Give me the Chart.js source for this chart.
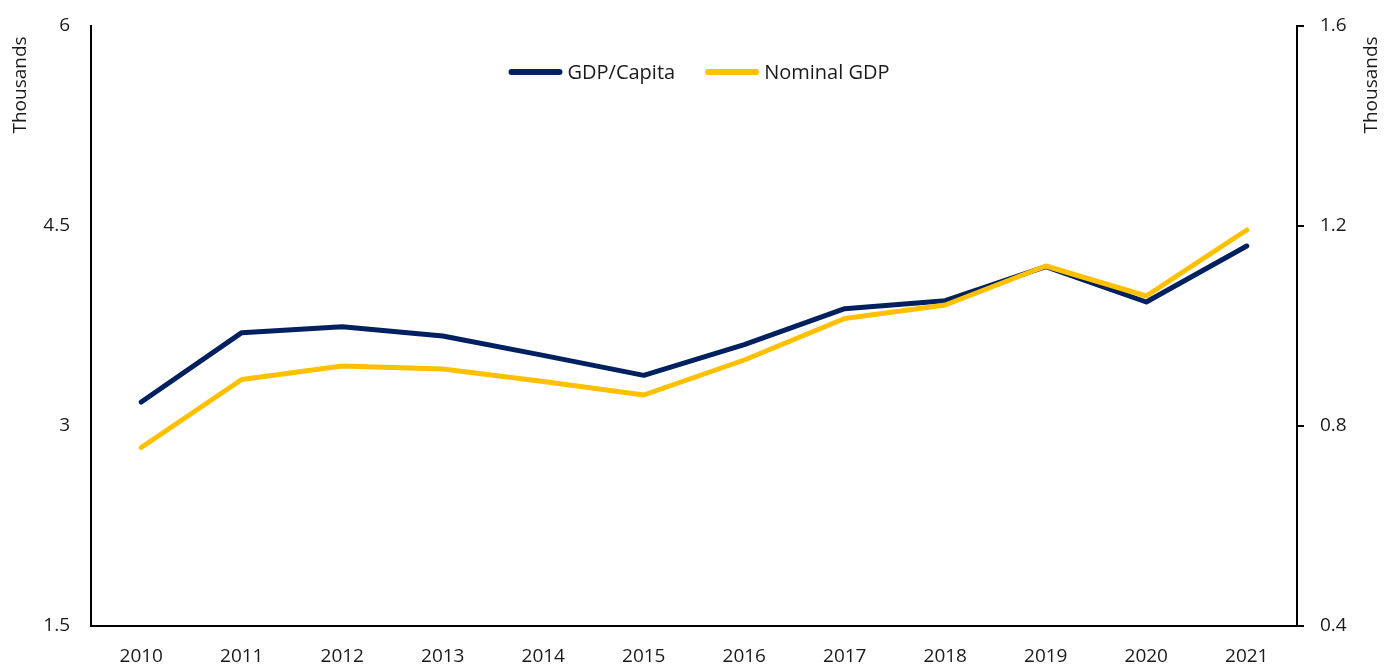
<!DOCTYPE html>
<html>
<head>
<meta charset="utf-8">
<title>GDP/Capita and Nominal GDP</title>
<script src="https://cdn.jsdelivr.net/npm/chart.js@4.4.0/dist/chart.umd.min.js"></script>
<style>
    html, body { margin: 0; padding: 0; background: #fff; }
    canvas { display: block; }
</style>
</head>
<body>
<canvas id="gdp-line" width="1394" height="666"></canvas>
<script>
var years = ["2010", "2011", "2012", "2013", "2014", "2015", "2016", "2017", "2018", "2019", "2020", "2021"];
// left axis, thousands
var gdpPerCapita = [3.18, 3.70, 3.745, 3.675, 3.53, 3.38, 3.61, 3.88, 3.94, 4.195, 3.93, 4.35];
// right axis, thousands
var nominalGdp = [0.757, 0.893, 0.92, 0.914, 0.889, 0.862, 0.932, 1.015, 1.042, 1.12, 1.06, 1.192];
var leftTicks = [1.5, 3, 4.5, 6];
var rightTicks = [0.4, 0.8, 1.2, 1.6];
var axisTitle = "Thousands";

var FONT = "'Open Sans', 'Noto Sans', sans-serif";
var TEXT = "#1a1a1a";
var NAVY = "#002060";
var GOLD = "#FFC000";

function fixedTicks(values) {
    return function(axis) {
        axis.ticks = values.map(function(v) { return {value: v}; });
    };
}

// fixed axis width, and no extra room reserved for the end labels
function fixedWidth(w) {
    return function(scale) {
        scale.width = w;
        scale.paddingTop = 0;
        scale.paddingBottom = 0;
    };
}

function rotatedText(ctx, text, x, y) {
    ctx.save();
    ctx.translate(x, y);
    ctx.rotate(-Math.PI / 2);
    ctx.textAlign = "center";
    ctx.textBaseline = "middle";
    ctx.fillText(text, 0, 0);
    ctx.restore();
}

// axis titles (both read bottom-to-top) and the in-plot legend
var extras = {
    id: "extras",
    afterDraw: function(chart) {
        var ctx = chart.ctx;
        var area = chart.chartArea;
        ctx.save();
        ctx.fillStyle = TEXT;

        ctx.font = "19px " + FONT;
        rotatedText(ctx, axisTitle, 21, 85);
        rotatedText(ctx, axisTitle, 1372, 85);

        ctx.font = "20px " + FONT;
        var lineLen = 54, gap = 5, itemGap = 30;
        var items = chart.data.datasets.map(function(ds) {
            return {label: ds.label, color: ds.borderColor, w: ctx.measureText(ds.label).width};
        });
        var total = 0;
        items.forEach(function(it, i) {
            total += lineLen + gap + it.w + (i > 0 ? itemGap : 0);
        });
        var x = (area.left + area.right) / 2 - total / 2 + 5;
        var y = 72;
        ctx.textBaseline = "middle";
        ctx.textAlign = "left";
        ctx.lineCap = "round";
        ctx.lineWidth = 6;
        items.forEach(function(it) {
            ctx.strokeStyle = it.color;
            ctx.beginPath();
            ctx.moveTo(x + 3, y);
            ctx.lineTo(x + lineLen - 3, y);
            ctx.stroke();
            x += lineLen + gap;
            ctx.fillText(it.label, x, y + 1);
            x += it.w + itemGap;
        });
        ctx.restore();
    }
};

new Chart(document.getElementById("gdp-line"), {
    type: "line",
    data: {
        labels: years,
        datasets: [
            {
                label: "GDP/Capita",
                data: gdpPerCapita,
                yAxisID: "yLeft",
                borderColor: NAVY,
                order: 1
            },
            {
                label: "Nominal GDP",
                data: nominalGdp,
                yAxisID: "yRight",
                borderColor: GOLD,
                order: 0
            }
        ]
    },
    options: {
        responsive: false,
        animation: false,
        devicePixelRatio: 1,
        layout: {autoPadding: false, padding: {top: 26, left: 0, right: 0, bottom: 0}},
        elements: {
            line: {borderWidth: 5, tension: 0, borderCapStyle: "round", borderJoinStyle: "round", fill: false},
            point: {radius: 0, hoverRadius: 0}
        },
        plugins: {
            legend: {display: false},
            tooltip: {enabled: false}
        },
        scales: {
            x: {
                offset: true,
                grid: {display: false, drawTicks: false},
                border: {display: true, color: "#000", width: 2},
                ticks: {color: TEXT, font: {family: FONT, size: 19}, padding: 19, maxRotation: 0},
                afterFit: function(scale) { scale.height = 40; }
            },
            yLeft: {
                position: "left",
                min: leftTicks[0],
                max: leftTicks[leftTicks.length - 1],
                afterBuildTicks: fixedTicks(leftTicks),
                grid: {display: false, drawTicks: false},
                border: {display: true, color: "#000", width: 2},
                ticks: {color: TEXT, font: {family: FONT, size: 19}, padding: 21},
                afterFit: fixedWidth(91)
            },
            yRight: {
                position: "right",
                min: rightTicks[0],
                max: rightTicks[rightTicks.length - 1],
                afterBuildTicks: fixedTicks(rightTicks),
                grid: {display: true, drawOnChartArea: false, drawTicks: true, tickLength: 7, color: "#000", lineWidth: 2},
                border: {display: true, color: "#000", width: 2},
                ticks: {color: TEXT, font: {family: FONT, size: 19}, padding: 16},
                afterFit: fixedWidth(97)
            }
        }
    },
    plugins: [extras]
});
</script>
</body>
</html>
